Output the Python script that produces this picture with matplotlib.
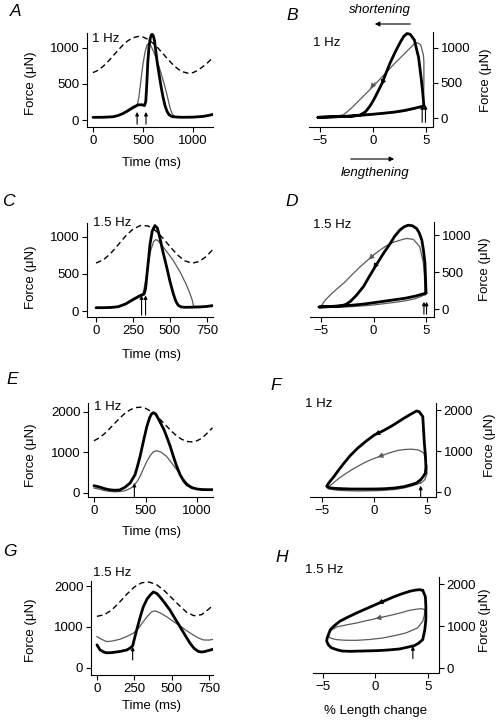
import numpy as np
import matplotlib.pyplot as plt

plt.rcParams['font.family'] = ['Liberation Sans', 'DejaVu Sans']
plt.rcParams['font.size'] = 9.5

# ---------------- data ----------------
# A : 1 Hz, force vs time
a_len_t = [0, 50, 100, 150, 200, 250, 300, 350, 400, 450, 500, 550, 600, 650, 700, 750, 800, 850, 900, 950, 1000, 1050, 1100, 1150, 1200]
a_len = [658, 690, 743, 811, 889, 968, 1042, 1102, 1142, 1160, 1152, 1120, 1067, 999, 921, 842, 768, 708, 668, 650, 658, 690, 743, 800, 870]
a_thick_t = [0, 100, 200, 250, 300, 350, 400, 450, 490, 515, 528, 538, 548, 560, 572, 583, 593, 603, 615, 628, 640, 660, 680, 700, 720, 740, 760, 780, 800, 850, 900, 1000, 1100, 1150, 1200]
a_thick = [37, 38, 45, 62, 90, 130, 175, 210, 212, 200, 260, 500, 800, 1020, 1130, 1180, 1190, 1170, 1100, 960, 820, 640, 470, 320, 200, 120, 75, 55, 45, 40, 38, 40, 50, 62, 78]
a_thin_t = [0, 100, 200, 250, 300, 350, 400, 441, 460, 480, 500, 520, 540, 556, 575, 600, 640, 680, 710, 740, 770, 790, 810, 840, 900, 1000, 1100, 1150, 1200]
a_thin = [37, 38, 45, 60, 85, 120, 160, 190, 330, 560, 780, 940, 1040, 1062, 1040, 970, 830, 650, 510, 350, 170, 90, 55, 42, 38, 40, 50, 62, 78]
a_stim = [441, 530]

# B : 1 Hz work loop
b_thick_L = [4.8, 4.7, 4.55, 4.3, 3.9, 3.5, 3.2, 2.9, 2.6, 2.1, 1.6, 1.2, 0.85, 0.4, 0.06, -0.3, -0.7, -1.2, -2.0, -3.0, -4.0, -5.2, -4.0, -3.0, -2.0, -1.0, 0.0, 1.0, 2.0, 3.0, 4.0, 4.8]
b_thick_F = [175, 350, 560, 860, 1110, 1190, 1200, 1160, 1085, 940, 780, 630, 495, 360, 260, 170, 94, 47, 30, 24, 20, 14, 20, 26, 33, 45, 58, 72, 88, 112, 145, 175]
b_thin_L = [4.75, 4.8, 4.8, 4.75, 4.5, 4.2, 4.0, 3.0, 2.0, 1.0, 0.0, -1.0, -2.0, -2.5, -2.8, -3.5, -4.2, -5.2, -4.0, -3.0, -2.0, -1.0, 0.0, 1.0, 2.0, 3.0, 4.0, 4.75]
b_thin_F = [175, 500, 800, 900, 1040, 1070, 1070, 920, 770, 610, 450, 300, 150, 85, 50, 30, 20, 14, 20, 25, 31, 40, 52, 65, 80, 100, 135, 175]
b_stim = [4.64, 4.95]

# C : 1.5 Hz, force vs time
c_len_t = [0, 50, 100, 150, 200, 250, 300, 350, 400, 450, 500, 550, 600, 650, 700, 750, 790]
c_len = [648, 691, 780, 895, 1012, 1106, 1155, 1150, 1090, 990, 871, 759, 678, 646, 670, 745, 831]
c_thick_t = [0, 50, 100, 150, 200, 250, 300, 325, 335, 350, 365, 380, 398, 415, 432, 450, 477, 500, 522, 540, 556, 575, 600, 650, 700, 750, 790]
c_thick = [45, 45, 48, 58, 95, 155, 210, 228, 300, 600, 900, 1080, 1155, 1120, 987, 820, 600, 400, 237, 130, 77, 55, 50, 52, 55, 62, 73]
c_thin_t = [0, 50, 100, 150, 200, 250, 300, 315, 330, 350, 370, 390, 405, 420, 440, 477, 520, 567, 610, 635, 650, 660, 700, 750, 790]
c_thin = [42, 42, 45, 55, 88, 145, 195, 210, 350, 600, 820, 940, 965, 950, 900, 805, 690, 532, 360, 237, 150, 64, 55, 60, 70]
c_stim = [308, 335]

# D : 1.5 Hz work loop
d_thick_L = [5.0, 4.95, 4.9, 4.75, 4.6, 4.35, 4.1, 3.7, 3.3, 2.9, 2.5, 2.0, 1.6, 0.95, 0.16, -0.4, -0.95, -1.6, -2.2, -2.6, -3.0, -4.0, -5.2, -4.0, -3.0, -2.0, -1.0, 0.0, 1.0, 2.0, 3.0, 4.0, 5.0]
d_thick_F = [215, 420, 618, 800, 932, 1030, 1089, 1125, 1133, 1110, 1066, 980, 887, 753, 573, 440, 305, 190, 103, 65, 45, 35, 27, 32, 40, 52, 66, 85, 105, 125, 145, 175, 215]
d_thin_L = [4.9, 4.85, 4.75, 4.4, 3.8, 3.15, 2.4, 1.6, 0.8, 0.0, -0.6, -1.26, -2.0, -2.84, -3.5, -4.1, -4.6, -4.9, -5.1, -4.0, -3.0, -2.0, -1.0, 0.0, 1.0, 2.0, 3.0, 4.0, 4.9]
d_thin_F = [193, 450, 620, 842, 941, 954, 925, 887, 815, 730, 655, 573, 470, 349, 270, 193, 120, 58, 27, 25, 27, 33, 42, 55, 72, 90, 110, 140, 193]
d_stim = [4.8, 5.05]

# E : 1 Hz, force vs time
e_len_t = [0, 50, 100, 150, 200, 250, 300, 350, 400, 450, 500, 550, 600, 650, 700, 750, 800, 850, 900, 950, 1000, 1050, 1100, 1150]
e_len = [1290, 1358, 1460, 1583, 1717, 1848, 1964, 2053, 2107, 2119, 2090, 2022, 1920, 1797, 1663, 1532, 1416, 1327, 1273, 1261, 1290, 1358, 1480, 1610]
e_thick_t = [0, 50, 100, 150, 200, 250, 300, 350, 398, 420, 447, 480, 512, 540, 560, 577, 600, 641, 680, 706, 740, 771, 800, 836, 870, 901, 950, 1000, 1050, 1100, 1155]
e_thick = [180, 150, 110, 80, 68, 75, 140, 245, 449, 640, 898, 1280, 1632, 1860, 1958, 1983, 1950, 1754, 1560, 1387, 1150, 898, 680, 449, 300, 204, 130, 98, 85, 82, 82]
e_thin_t = [0, 50, 100, 150, 200, 250, 300, 350, 382, 420, 447, 480, 512, 545, 577, 609, 650, 706, 760, 804, 850, 901, 950, 1000, 1050, 1100, 1155]
e_thin = [122, 95, 60, 40, 30, 35, 55, 110, 163, 290, 408, 600, 775, 920, 1020, 1044, 1010, 898, 720, 571, 400, 245, 150, 98, 75, 65, 65]
e_stim = [392]

# F : 1 Hz work loop
f_thick_L = [4.85, 4.9, 4.85, 4.75, 4.6, 4.25, 4.0, 3.4, 2.8, 2.2, 1.55, 0.8, 0.0, -0.8, -1.6, -2.3, -2.9, -3.4, -3.85, -4.2, -4.4, -4.55, -4.3, -3.85, -3.0, -2.25, -1.0, 0.0, 1.0, 1.9, 2.8, 3.5, 4.0, 4.4, 4.65, 4.85]
f_thick_F = [462, 620, 900, 1190, 1839, 1960, 1976, 1890, 1798, 1700, 1596, 1490, 1393, 1240, 1069, 890, 705, 540, 381, 270, 203, 138, 105, 90, 80, 73, 72, 73, 80, 97, 130, 178, 220, 300, 380, 462]
f_thin_L = [4.4, 4.8, 5.0, 5.0, 4.85, 4.7, 4.4, 4.1, 3.5, 2.8, 2.2, 1.5, 0.9, 0.3, -0.35, -1.0, -1.6, -2.3, -2.9, -3.4, -3.85, -4.2, -4.5, -4.3, -3.5, -2.5, -1.6, 0.0, 0.9, 2.0, 2.8, 3.6, 4.4]
f_thin_F = [219, 300, 450, 624, 800, 948, 1000, 1029, 1045, 1035, 1012, 960, 907, 850, 786, 710, 624, 520, 421, 330, 235, 160, 97, 70, 40, 30, 24, 30, 40, 62, 97, 150, 219]
f_stim = [4.4]

# G : 1.5 Hz, force vs time
g_len_t = [0, 50, 100, 150, 200, 250, 300, 350, 400, 450, 500, 550, 600, 650, 700, 750, 780]
g_len = [1260, 1300, 1420, 1600, 1800, 1975, 2080, 2095, 2030, 1890, 1710, 1530, 1360, 1275, 1300, 1440, 1550]
g_thick_t = [0, 20, 45, 65, 100, 154, 200, 221, 239, 250, 266, 290, 310, 335, 355, 377, 400, 422, 455, 489, 520, 556, 590, 623, 650, 679, 700, 723, 750, 779]
g_thick = [564, 443, 390, 370, 375, 403, 440, 484, 540, 700, 927, 1250, 1491, 1680, 1773, 1854, 1820, 1733, 1580, 1411, 1220, 1008, 800, 605, 480, 403, 390, 403, 430, 459]
g_thin_t = [0, 30, 65, 100, 154, 200, 243, 280, 310, 340, 366, 388, 420, 467, 510, 556, 600, 645, 680, 712, 750, 779]
g_thin = [766, 700, 645, 655, 701, 770, 846, 980, 1128, 1270, 1370, 1394, 1350, 1249, 1140, 1024, 910, 806, 730, 685, 680, 701]
g_stim = [239]

# H : 1.5 Hz work loop
h_thick_L = [4.5, 4.75, 4.8, 4.8, 4.7, 4.5, 4.1, 3.7, 2.3, 1.0, 0.1, -1.2, -2.4, -3.2, -3.7, -4.2, -4.5, -4.65, -4.6, -4.3, -3.9, -3.4, -2.6, -1.8, -0.9, 0.0, 0.9, 1.7, 2.5, 3.25, 3.8, 4.2, 4.5]
h_thick_F = [1850, 1700, 1469, 1150, 913, 675, 590, 532, 453, 425, 413, 405, 397, 405, 437, 480, 556, 640, 715, 913, 1010, 1112, 1215, 1310, 1410, 1509, 1605, 1691, 1765, 1826, 1855, 1866, 1850]
h_thin_L = [4.7, 4.65, 4.5, 4.0, 2.9, 1.8, 0.7, -0.5, -1.8, -2.8, -3.7, -4.2, -4.5, -4.45, -4.1, -3.7, -2.8, -1.8, -0.9, 0.0, 0.9, 1.7, 2.5, 3.25, 3.9, 4.35, 4.7]
h_thin_F = [1390, 1250, 1112, 953, 834, 770, 715, 680, 659, 660, 675, 705, 754, 834, 920, 977, 1025, 1072, 1125, 1175, 1225, 1270, 1320, 1374, 1400, 1413, 1390]
h_stim = [3.56]

# ---------------- figure ----------------
W, H = 502, 721
fig = plt.figure(figsize=(W / 100, H / 100), dpi=100)

THICK = dict(color='black', lw=2.0, solid_joinstyle='round', solid_capstyle='round')
THIN = dict(color='#5a5a5a', lw=0.9)
DASH = dict(color='black', lw=1.0, dashes=(4, 2.5))


def px_axes(l, t, r, b):
    return fig.add_axes([l / W, 1 - b / H, (r - l) / W, (b - t) / H])


def style(ax, right=False):
    ax.patch.set_alpha(0)
    ax.spines['top'].set_visible(False)
    ax.spines['right' if not right else 'left'].set_visible(False)
    for s in ['left', 'right', 'bottom']:
        ax.spines[s].set_linewidth(0.8)
    if right:
        ax.yaxis.tick_right()
    ax.tick_params(direction='out', length=3.5, width=0.8, pad=2, labelsize=9.5)


def stim(ax, xs, tip, tail):
    for x in xs:
        ax.annotate('', xy=(x, tip), xytext=(x, tail),
                    xycoords=('data', 'axes fraction'), textcoords=('data', 'axes fraction'),
                    arrowprops=dict(arrowstyle='-|>', lw=0.8, color='black',
                                    mutation_scale=5, shrinkA=0, shrinkB=0))


def dirhead(ax, tail, head, color):
    ax.annotate('', xy=head, xytext=tail,
                arrowprops=dict(arrowstyle='-|>', lw=0.6, color=color,
                                mutation_scale=8, shrinkA=0, shrinkB=0))


def ftext(x, y, s, **kw):
    fig.text(x / W, 1 - y / H, s, **kw)


# A
ax = px_axes(87, 33, 213, 127)
style(ax)
ax.plot(a_len_t, a_len, **DASH)
ax.plot(a_thin_t, a_thin, **THIN)
ax.plot(a_thick_t, a_thick, **THICK)
ax.set_xlim(-60, 1200)
ax.set_ylim(-97, 1208)
ax.set_xticks([0, 500, 1000])
ax.set_yticks([0, 500, 1000])
stim(ax, a_stim, 0.16, 0.03)

# B
ax = px_axes(309, 32, 433, 127)
style(ax, right=True)
ax.plot(b_thin_L, b_thin_F, **THIN)
ax.plot(b_thick_L, b_thick_F, **THICK)
ax.set_xlim(-6.04, 5.66)
ax.set_ylim(-123, 1222)
ax.set_xticks([-5, 0, 5])
ax.set_yticks([0, 500, 1000])
stim(ax, b_stim, 0.23, 0.05)
dirhead(ax, (1.15, 590), (0.76, 470), 'black')
dirhead(ax, (0.2, 510), (-0.25, 420), '#5a5a5a')

# C
ax = px_axes(87, 223, 213, 317)
style(ax)
ax.plot(c_len_t, c_len, **DASH)
ax.plot(c_thin_t, c_thin, **THIN)
ax.plot(c_thick_t, c_thick, **THICK)
ax.set_xlim(-61, 791)
ax.set_ylim(-81, 1189)
ax.set_xticks([0, 250, 500, 750])
ax.set_yticks([0, 500, 1000])
stim(ax, c_stim, 0.23, 0.02)

# D
ax = px_axes(310, 222, 434, 317)
style(ax, right=True)
ax.plot(d_thin_L, d_thin_F, **THIN)
ax.plot(d_thick_L, d_thick_F, **THICK)
ax.set_xlim(-6.05, 5.76)
ax.set_ylim(-108, 1176)
ax.set_xticks([-5, 0, 5])
ax.set_yticks([0, 500, 1000])
stim(ax, d_stim, 0.16, 0.03)
dirhead(ax, (0.4, 640), (0.0, 545), 'black')
dirhead(ax, (0.1, 740), (-0.47, 670), '#5a5a5a')

# E
ax = px_axes(88, 403, 213, 497)
style(ax)
ax.plot(e_len_t, e_len, **DASH)
ax.plot(e_thin_t, e_thin, **THIN)
ax.plot(e_thick_t, e_thick, **THICK)
ax.set_xlim(-58, 1155)
ax.set_ylim(-99, 2222)
ax.set_xticks([0, 500, 1000])
ax.set_yticks([0, 1000, 2000])
stim(ax, e_stim, 0.15, 0.0)

# F
ax = px_axes(310, 403, 436, 497)
style(ax, right=True)
ax.plot(f_thin_L, f_thin_F, **THIN)
ax.plot(f_thick_L, f_thick_F, **THICK)
ax.set_xlim(-6.14, 5.86)
ax.set_ylim(-122, 2171)
ax.set_xticks([-5, 0, 5])
ax.set_yticks([0, 1000, 2000])
stim(ax, f_stim, 0.12, 0.0)
dirhead(ax, (0.6, 1465), (0.0, 1390), 'black')
dirhead(ax, (0.9, 907), (0.3, 850), '#5a5a5a')

# G
ax = px_axes(91, 581, 213, 675)
style(ax)
ax.plot(g_len_t, g_len, **DASH)
ax.plot(g_thin_t, g_thin, **THIN)
ax.plot(g_thick_t, g_thick, **THICK)
ax.set_xlim(-40, 777)
ax.set_ylim(-171, 2122)
ax.set_xticks([0, 250, 500, 750])
ax.set_yticks([0, 1000, 2000])
stim(ax, g_stim, 0.30, 0.16)

# H
ax = px_axes(313, 577, 439, 673)
style(ax, right=True)
ax.plot(h_thin_L, h_thin_F, **THIN)
ax.plot(h_thick_L, h_thick_F, **THICK)
ax.set_xlim(-5.95, 6.05)
ax.set_ylim(-119, 2167)
ax.set_xticks([-5, 0, 5])
ax.set_yticks([0, 1000, 2000])
stim(ax, h_stim, 0.28, 0.15)
dirhead(ax, (0.8, 1595), (0.2, 1530), 'black')
dirhead(ax, (0.7, 1215), (0.0, 1175), '#5a5a5a')

# panel letters
for s, x, y in [('A', 16, 12), ('B', 292, 15), ('C', 8, 202), ('D', 292, 202),
                ('E', 12, 379), ('F', 276, 386), ('G', 10, 551), ('H', 282, 557)]:
    ftext(x, y, s, fontsize=12.5, style='italic', ha='center', va='center')

# frequency labels
for s, x, y in [('1 Hz', 92, 39), ('1 Hz', 313, 43), ('1.5 Hz', 93, 223), ('1.5 Hz', 313, 225),
                ('1 Hz', 94, 407), ('1 Hz', 305, 404), ('1.5 Hz', 93, 573), ('1.5 Hz', 305, 570)]:
    ftext(x, y, s, fontsize=9.5, ha='left', va='center')

# axis labels
for x, y in [(31, 83), (31, 277), (31, 455), (31, 630), (486, 80), (485, 269), (490, 445), (485, 620)]:
    ftext(x, y, 'Force (\u03bcN)', fontsize=9.5, rotation=90, ha='center', va='center')
for y in [163, 355, 532, 706]:
    ftext(152, y, 'Time (ms)', fontsize=9.5, ha='center', va='center')
ftext(376, 711, '% Length change', fontsize=9.5, ha='center', va='center')

# shortening / lengthening
ftext(380, 10, 'shortening', fontsize=9.5, style='italic', ha='center', va='center')
ftext(375, 173, 'lengthening', fontsize=9.5, style='italic', ha='center', va='center')
fig.add_artist(plt.matplotlib.patches.FancyArrowPatch((413, H - 24), (372, H - 24), transform=None,
               arrowstyle='-|>', mutation_scale=7, lw=0.8, color='black'))
fig.add_artist(plt.matplotlib.patches.FancyArrowPatch((348, H - 159), (397, H - 159), transform=None,
               arrowstyle='-|>', mutation_scale=7, lw=0.8, color='black'))

fig.savefig('out.png', dpi=100)
